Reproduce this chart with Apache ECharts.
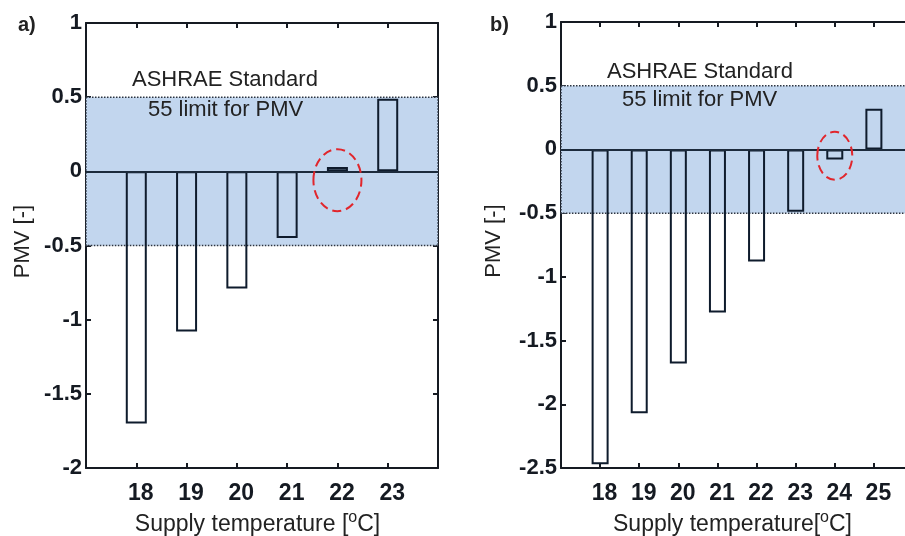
<!DOCTYPE html>
<html>
<head>
<meta charset="utf-8">
<script src="https://cdn.jsdelivr.net/npm/echarts@6/dist/echarts.min.js"></script>
<style>
  html, body { margin: 0; padding: 0; background: #ffffff; }
  #chart { width: 905px; height: 536px; }
</style>
</head>
<body>
<div id="chart"></div>
<script>
// Panel a): supply temperature vs PMV
const tempsA = [18, 19, 20, 21, 22, 23];
const pmvA = [-1.70, -1.08, -0.79, -0.45, 0.03, 0.49];
// Panel b)
const tempsB = [18, 19, 20, 21, 22, 23, 24, 25];
const pmvB = [-2.47, -2.07, -1.68, -1.28, -0.88, -0.49, -0.08, 0.32];

// Axis ranges and labelled ticks
const xRangeA = [17, 24];
const xRangeB = [17, 26];
const yRangeA = [-2, 1];
const yRangeB = [-2.5, 1];
const yStep = 0.5;
const xLabelsA = [18, 19, 20, 21, 22, 23];
const xLabelsB = [18, 19, 20, 21, 22, 23, 24, 25];

// Comfort band (ASHRAE 55 PMV limits)
const pmvLimits = [-0.5, 0.5];
// Highlighted points (ellipse annotations)
const highlightA = [22, -0.06];
const highlightB = [24, -0.05];

const INK = '#151a22';
const BAR_EDGE = '#0e1b2c';
const BAND = '#c2d6ee';
const SANS = '"Liberation Sans", Arial, Helvetica, sans-serif';

const chart = echarts.init(document.getElementById('chart'), null, { renderer: 'canvas' });

function xAxes(grid, range, labels) {
  const common = {
    gridIndex: grid, type: 'value', min: range[0], max: range[1], interval: 1,
    axisLine: { onZero: false, lineStyle: { color: INK, width: 2 } },
    axisTick: { inside: true, length: 5, lineStyle: { color: INK, width: 2 } },
    splitLine: { show: false }
  };
  return [
    Object.assign({}, common, {
      position: 'bottom',
      axisLabel: {
        formatter: v => labels.indexOf(v) >= 0 ? String(v) : '',
        fontFamily: SANS, fontWeight: 'bold', fontSize: 23, color: INK,
        margin: 14, padding: [0, 0, 0, 9]
      },
      name: grid === 0 ? 'Supply temperature [{sup|o}C]' : 'Supply temperature[{sup|o}C]',
      nameLocation: 'middle', nameGap: 42,
      nameTextStyle: {
        fontFamily: SANS, fontSize: 23, color: '#222222', padding: [0, 9, 0, 0],
        rich: { sup: { fontFamily: SANS, fontSize: 16, color: '#222222', padding: [0, 0, 13, 0] } }
      }
    }),
    Object.assign({}, common, { position: 'top', axisLabel: { show: false } })
  ];
}

function yAxes(grid, range, nameGap) {
  const common = {
    gridIndex: grid, type: 'value', min: range[0], max: range[1], interval: yStep,
    axisLine: { onZero: false, lineStyle: { color: INK, width: 2 } },
    axisTick: { inside: true, length: 5, lineStyle: { color: INK, width: 2 } },
    splitLine: { show: false }
  };
  return [
    Object.assign({}, common, {
      position: 'left',
      axisLabel: { fontFamily: SANS, fontWeight: 'bold', fontSize: 22, color: INK, margin: 4 },
      name: 'PMV [-]', nameLocation: 'middle', nameRotate: 90, nameGap: nameGap,
      nameTextStyle: { fontFamily: SANS, fontSize: 22, color: '#222222', padding: [0, 0, 0, 8] }
    }),
    Object.assign({}, common, { position: 'right', axisLabel: { show: false } })
  ];
}

function panelSeries(temps, values, xAxisIndex, yAxisIndex, barWidth) {
  return [
    {
      // shaded comfort band with dotted outline
      type: 'line', xAxisIndex, yAxisIndex, data: [], z: 1, silent: true,
      markArea: {
        silent: true,
        itemStyle: { color: BAND, borderColor: '#2c3440', borderWidth: 1.5, borderType: 'dotted' },
        data: [[{ yAxis: pmvLimits[1] }, { yAxis: pmvLimits[0] }]]
      }
    },
    {
      type: 'bar', xAxisIndex, yAxisIndex, z: 3, barWidth: barWidth,
      data: temps.map((t, i) => [t, values[i]]),
      itemStyle: { color: 'rgba(0,0,0,0)', borderColor: BAR_EDGE, borderWidth: 2 },
      markLine: {
        silent: true, symbol: 'none', label: { show: false },
        lineStyle: { color: '#1c2b3c', width: 2, type: 'solid' },
        data: [{ yAxis: 0 }]
      }
    }
  ];
}

const option = {
  animation: false,
  backgroundColor: '#ffffff',
  grid: [
    { left: 86, top: 23, width: 352, height: 445, outerBoundsMode: 'none' },
    { left: 561, top: 22, width: 352, height: 446, outerBoundsMode: 'none' }
  ],
  xAxis: [].concat(xAxes(0, xRangeA, xLabelsA), xAxes(1, xRangeB, xLabelsB)),
  yAxis: [].concat(yAxes(0, yRangeA, 52), yAxes(1, yRangeB, 56)),
  series: [].concat(
    panelSeries(tempsA, pmvA, 0, 0, 21),
    panelSeries(tempsB, pmvB, 2, 2, 17)
  )
};
chart.setOption(option);

// Annotations: panel letters, standard note, dashed ellipses around highlighted bars
function noteText(text, x, y, size, weight) {
  return {
    type: 'text', z: 10, silent: true,
    style: {
      text: text, x: x, y: y, fontFamily: SANS, fontSize: size, fontWeight: weight || 'normal',
      fill: '#222222', verticalAlign: 'middle', align: 'left'
    }
  };
}
const cA = chart.convertToPixel({ xAxisIndex: 0, yAxisIndex: 0 }, highlightA);
const cB = chart.convertToPixel({ xAxisIndex: 2, yAxisIndex: 2 }, highlightB);
function ellipse(c, rx, ry) {
  return {
    type: 'ellipse', z: 12, silent: true,
    shape: { cx: c[0], cy: c[1], rx: rx, ry: ry },
    style: { fill: 'none', stroke: '#e1262c', lineWidth: 2, lineDash: [9, 5] }
  };
}
chart.setOption({
  graphic: [
    noteText('a)', 18, 25, 20, 'bold'),
    noteText('b)', 490, 25, 20, 'bold'),
    noteText('ASHRAE Standard', 132, 80, 22),
    noteText('55 limit for PMV', 148, 110, 22),
    noteText('ASHRAE Standard', 607, 72, 22),
    noteText('55 limit for PMV', 622, 100, 22),
    ellipse(cA, 24, 31),
    ellipse(cB, 17.5, 24)
  ]
});
</script>
</body>
</html>
